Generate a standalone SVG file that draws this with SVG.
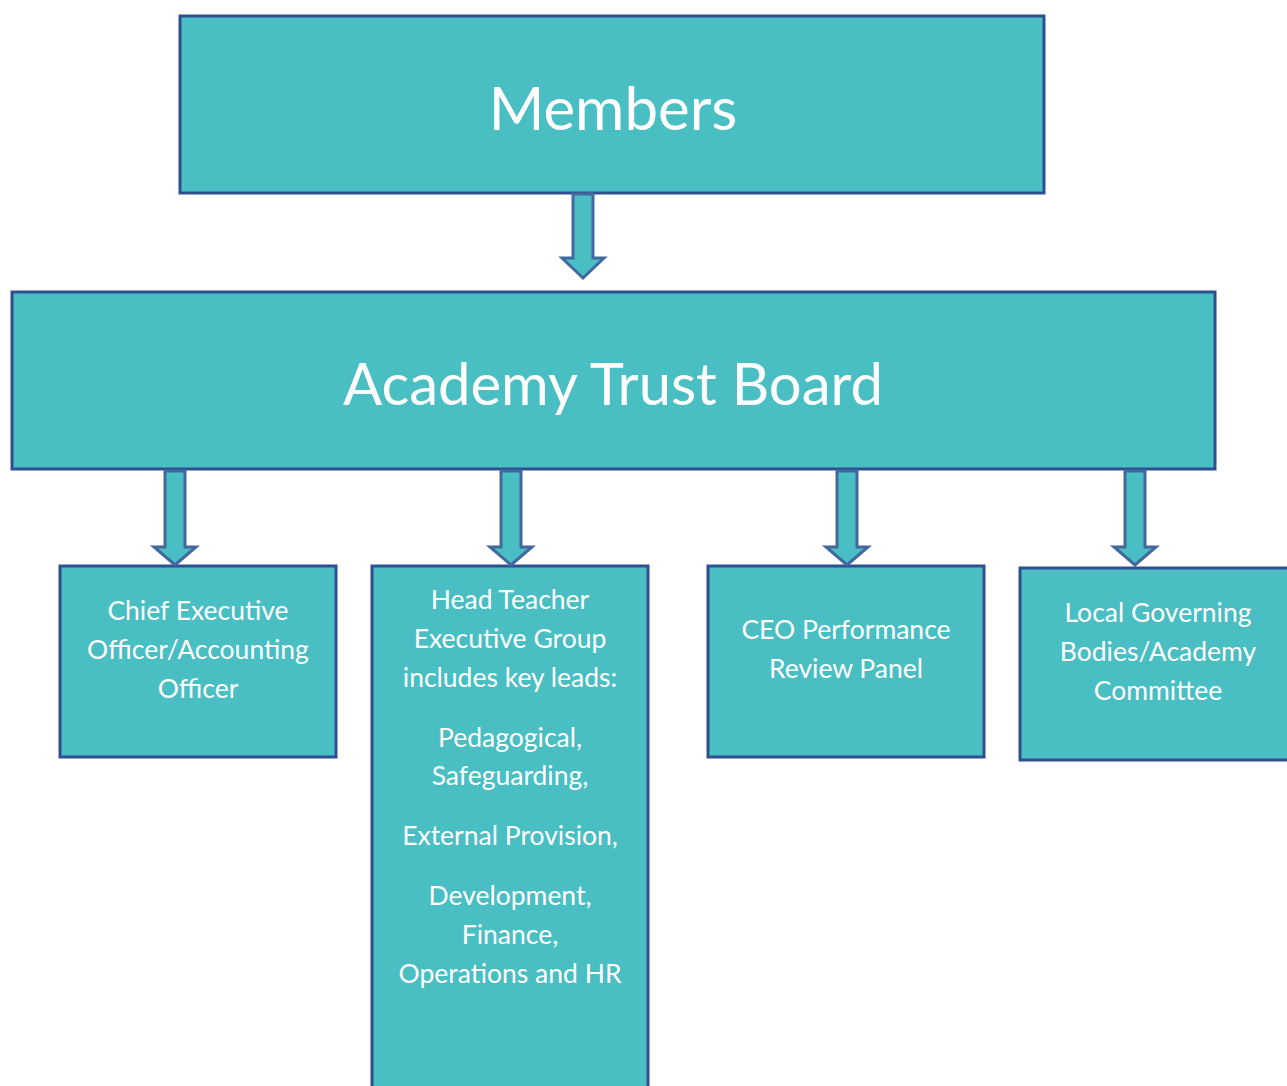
<svg xmlns="http://www.w3.org/2000/svg" width="1287" height="1086" viewBox="0 0 1287 1086">
<style>
.box{fill:#49BEC3;stroke:#2F4F8F;stroke-width:3}
.arr{fill:#49BEC3;stroke:#41689F;stroke-width:3;stroke-linejoin:miter}
.big{font-family:Lato,"Liberation Sans",sans-serif;font-size:60px;fill:#fff;text-anchor:middle}
.big2{font-family:Lato,"Liberation Sans",sans-serif;font-size:58px;fill:#fff;text-anchor:middle}
.sm{font-family:Lato,"Liberation Sans",sans-serif;font-size:26.5px;fill:#fff;text-anchor:middle}
</style>
<rect width="1287" height="1086" fill="#fff"/>
<g id="members">
<rect class="box" x="180" y="16" width="864" height="177"/>
<text class="big" x="613" y="130">Members</text>
</g>
<g id="board">
<rect class="box" x="12" y="292" width="1203" height="177"/>
<text class="big2" x="613" y="405">Academy Trust Board</text>
</g>
<g id="ceo">
<rect class="box" x="60" y="566" width="276" height="191"/>
<text class="sm" x="198" y="620">Chief Executive</text>
<text class="sm" x="198" y="659">Officer/Accounting</text>
<text class="sm" x="198" y="698">Officer</text>
</g>
<g id="headteacher">
<rect class="box" x="372" y="566" width="276" height="530"/>
<text class="sm" x="510" y="609">Head Teacher</text>
<text class="sm" x="510" y="648">Executive Group</text>
<text class="sm" x="510" y="687">includes key leads:</text>
<text class="sm" x="510" y="747">Pedagogical,</text>
<text class="sm" x="510" y="785">Safeguarding,</text>
<text class="sm" x="510" y="845">External Provision,</text>
<text class="sm" x="510" y="905">Development,</text>
<text class="sm" x="510" y="944">Finance,</text>
<text class="sm" x="510" y="983">Operations and HR</text>
</g>
<g id="ceoreview">
<rect class="box" x="708" y="566" width="276" height="191"/>
<text class="sm" x="846" y="639">CEO Performance</text>
<text class="sm" x="846" y="678">Review Panel</text>
</g>
<g id="lgb">
<rect class="box" x="1020" y="568" width="280" height="192"/>
<text class="sm" x="1158" y="622">Local Governing</text>
<text class="sm" x="1158" y="661">Bodies/Academy</text>
<text class="sm" x="1158" y="700">Committee</text>
</g>
<g id="connectors">
<path class="arr" d="M573,194 V258 H562 L583,278 L604,258 H593 V194 Z"/>
<path class="arr" d="M165,471 V547 H154 L175,565 L196,547 H185 V471 Z"/>
<path class="arr" d="M501,471 V547 H490 L511,565 L532,547 H521 V471 Z"/>
<path class="arr" d="M837,471 V547 H826 L847,565 L868,547 H857 V471 Z"/>
<path class="arr" d="M1125,471 V547 H1114 L1135,565 L1156,547 H1145 V471 Z"/>
</g>
</svg>
